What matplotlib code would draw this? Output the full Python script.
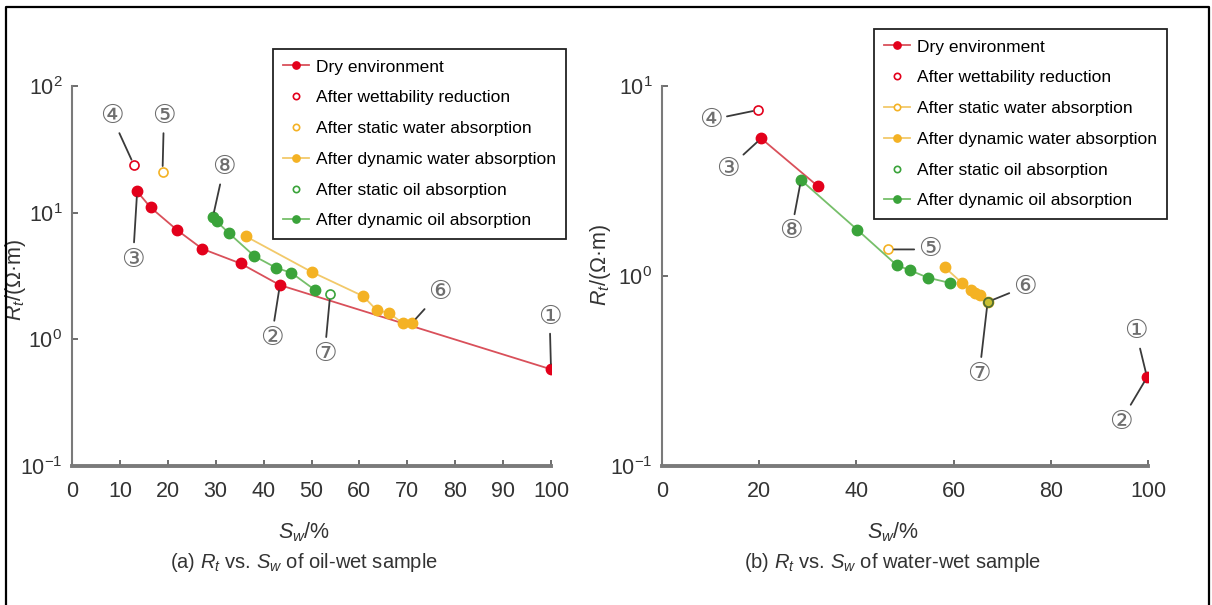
import matplotlib
matplotlib.use('Agg')
import matplotlib.pyplot as plt
from matplotlib.lines import Line2D

plt.rcParams['font.family'] = ['Liberation Sans', 'DejaVu Sans']
plt.rcParams['mathtext.fontset'] = 'custom'
plt.rcParams['mathtext.rm'] = 'Liberation Sans'
plt.rcParams['mathtext.it'] = 'Liberation Sans:italic'

# ---- (a) oil-wet sample ----
a_dry_sw = [13.6, 16.4, 22.0, 27.2, 35.2, 43.4, 100.0]
a_dry_rt = [14.7, 11.0, 7.26, 5.18, 3.97, 2.68, 0.58]
a_wet_sw = [12.9]
a_wet_rt = [23.9]
a_sw_static_sw = [18.9]
a_sw_static_rt = [21.1]
a_dw_sw = [36.3, 50.0, 60.8, 63.6, 66.1, 69.1, 71.0]
a_dw_rt = [6.5, 3.41, 2.19, 1.70, 1.62, 1.34, 1.35]
a_so_sw = [53.9]
a_so_rt = [2.26]
a_do_sw = [29.4, 30.2, 32.7, 38.1, 42.6, 45.8, 50.8]
a_do_rt = [9.2, 8.55, 6.92, 4.53, 3.67, 3.35, 2.44]

# ---- (b) water-wet sample ----
b_dry_sw = [20.4, 32.0]
b_dry_rt = [5.3, 2.98]
b_dry_end_sw = [99.8]
b_dry_end_rt = [0.293]
b_wet_sw = [19.8]
b_wet_rt = [7.48]
b_sw_static_sw = [46.6]
b_sw_static_rt = [1.38]
b_dw_sw = [58.2, 61.7, 63.6, 64.5, 65.5, 67.0]
b_dw_rt = [1.11, 0.92, 0.84, 0.81, 0.79, 0.73]
b_so_sw = [67.0]
b_so_rt = [0.73]
b_do_sw = [28.6, 40.2, 48.3, 51.1, 54.7, 59.2]
b_do_rt = [3.2, 1.75, 1.14, 1.07, 0.98, 0.92]

labels = ['Dry environment', 'After wettability reduction',
          'After static water absorption', 'After dynamic water absorption',
          'After static oil absorption', 'After dynamic oil absorption']

RED, RED_L = '#e3001b', '#d9505a'
YEL, YEL_L = '#f4b224', '#f2c96a'
GRN, GRN_L = '#3aa33a', '#76bf6a'
GREY = '#6e6e6e'

fig = plt.figure(figsize=(12.12, 6.05), dpi=100)
ax1 = fig.add_axes([72 / 1212, 1 - 466 / 605, 479 / 1212, 380 / 605])
ax2 = fig.add_axes([662 / 1212, 1 - 466 / 605, 486 / 1212, 380 / 605])

ms = 7.5
mso = 6.5


def draw_series(ax, dry, wet, s_w, d_w, s_o, d_o, static_line):
    ax.plot(*dry, '-o', color=RED_L, mfc=RED, mec=RED, ms=ms, lw=1.3, label=labels[0])
    ax.plot(*wet, 'o', color=RED, mfc='white', mec=RED, ms=mso, mew=1.2, label=labels[1])
    ax.plot(*s_w, '-o' if static_line else 'o', color=YEL_L, mfc='white', mec=YEL,
            ms=mso, mew=1.2, lw=1.3, label=labels[2])
    ax.plot(*d_w, '-o', color=YEL_L, mfc=YEL, mec=YEL, ms=ms, lw=1.3, label=labels[3])
    ax.plot(*s_o, 'o', color=GRN, mfc='white', mec=GRN, ms=mso, mew=1.2, label=labels[4])
    ax.plot(*d_o, '-o', color=GRN_L, mfc=GRN, mec=GRN, ms=ms, lw=1.3, label=labels[5])


draw_series(ax1, (a_dry_sw, a_dry_rt), (a_wet_sw, a_wet_rt), (a_sw_static_sw, a_sw_static_rt),
            (a_dw_sw, a_dw_rt), (a_so_sw, a_so_rt), (a_do_sw, a_do_rt), False)
draw_series(ax2, (b_dry_sw, b_dry_rt), (b_wet_sw, b_wet_rt), (b_sw_static_sw, b_sw_static_rt),
            (b_dw_sw, b_dw_rt), (b_so_sw, b_so_rt), (b_do_sw, b_do_rt), True)
ax2.plot(b_dry_end_sw, b_dry_end_rt, 'o', mfc=RED, mec=RED, ms=ms)
# static oil point sits on top of the last dynamic water point
ax2.plot(b_so_sw, b_so_rt, 'o', mfc='#c8c032', mec='#556b2f', ms=mso, mew=1.2, zorder=5)

# circled labels: (text, x, y, dx, dy) with offsets in points
notes_a = [('④', a_wet_sw[0], a_wet_rt[0], -16, 35),
           ('⑤', a_sw_static_sw[0], a_sw_static_rt[0], 1, 40),
           ('③', a_dry_sw[0], a_dry_rt[0], -3, -49),
           ('⑧', a_do_sw[0], a_do_rt[0], 8, 36),
           ('②', a_dry_sw[5], a_dry_rt[5], -6, -38),
           ('⑦', a_so_sw[0], a_so_rt[0], -4, -43),
           ('⑥', a_dw_sw[-1], a_dw_rt[-1], 20, 22),
           ('①', a_dry_sw[-1], a_dry_rt[-1], -1, 38)]
notes_b = [('④', b_wet_sw[0], b_wet_rt[0], -34, -7),
           ('③', b_dry_sw[0], b_dry_rt[0], -24, -22),
           ('⑧', b_do_sw[0], b_do_rt[0], -7, -37),
           ('⑤', b_sw_static_sw[0], b_sw_static_rt[0], 30, 0),
           ('⑥', b_dw_sw[-1], b_dw_rt[-1], 27, 11),
           ('⑦', b_so_sw[0], b_so_rt[0], -6, -52),
           ('①', b_dry_end_sw[0], b_dry_end_rt[0], -8, 33),
           ('②', b_dry_end_sw[0], b_dry_end_rt[0], -19, -32)]

for ax, notes in ((ax1, notes_a), (ax2, notes_b)):
    for txt, x, y, dx, dy in notes:
        ax.annotate(txt, xy=(x, y), xytext=(dx, dy), textcoords='offset points',
                    ha='center', va='center', fontsize=19, color=GREY,
                    family=['DejaVu Sans'],
                    arrowprops=dict(arrowstyle='-', color='#3a3a3a', lw=1.3,
                                    shrinkA=1, shrinkB=4))

for ax, ylim, xt in ((ax1, (0.1, 100), range(0, 101, 10)), (ax2, (0.1, 10), range(0, 101, 20))):
    ax.set_yscale('log')
    ax.set_ylim(*ylim)
    ax.set_xlim(0, 100)
    ax.set_xticks(list(xt))
    ax.minorticks_off()
    ax.spines['top'].set_visible(False)
    ax.spines['right'].set_visible(False)
    ax.spines['left'].set_color('#7a7a7a')
    ax.spines['left'].set_linewidth(1.5)
    ax.spines['bottom'].set_color('#7a7a7a')
    ax.spines['bottom'].set_linewidth(2.8)
    ax.tick_params(direction='in', length=4, width=1.2, colors='#555555', labelsize=15.5)
    ax.tick_params(axis='x', pad=11)
    ax.tick_params(axis='y', pad=7)
    for lab in ax.get_xticklabels() + ax.get_yticklabels():
        lab.set_color('#333333')
    ax.set_xlabel('$S_w$/%', fontsize=15.5, color='#333333')
    ax.set_ylabel('$R_t$/(Ω·m)', fontsize=15.5, color='#333333')
    ax.set_facecolor('none')

ax1.xaxis.set_label_coords(0.484, -0.142)
ax2.xaxis.set_label_coords(0.475, -0.142)
ax1.yaxis.set_label_coords(-0.092, 0.49)
ax2.yaxis.set_label_coords(-0.10, 0.53)

ax1.text(0.484, -0.253, '(a) $R_t$ vs. $S_w$ of oil-wet sample', transform=ax1.transAxes,
         ha='center', va='center', fontsize=14.5, color='#333333')
ax2.text(0.475, -0.253, '(b) $R_t$ vs. $S_w$ of water-wet sample', transform=ax2.transAxes,
         ha='center', va='center', fontsize=14.5, color='#333333')

for ax, (lx, ty) in ((ax1, (273, 49)), (ax2, (874, 29))):
    leg = ax.legend(loc='upper left', bbox_to_anchor=(lx / 1212, 1 - ty / 605),
                    bbox_transform=fig.transFigure, fontsize=12.5, frameon=True,
                    fancybox=False, edgecolor='#222222', framealpha=1,
                    handlelength=1.5, labelspacing=0.9, borderpad=0.6,
                    handletextpad=0.35, borderaxespad=0, markerscale=0.7)
    leg.get_frame().set_linewidth(1.3)

# outer frame (open at the bottom)
fig.add_artist(Line2D([6 / 1212, 6 / 1212, 1209 / 1212, 1209 / 1212],
                      [0, 1 - 7 / 605, 1 - 7 / 605, 0], color='black', lw=1.6))

fig.savefig('out.png', dpi=100)
